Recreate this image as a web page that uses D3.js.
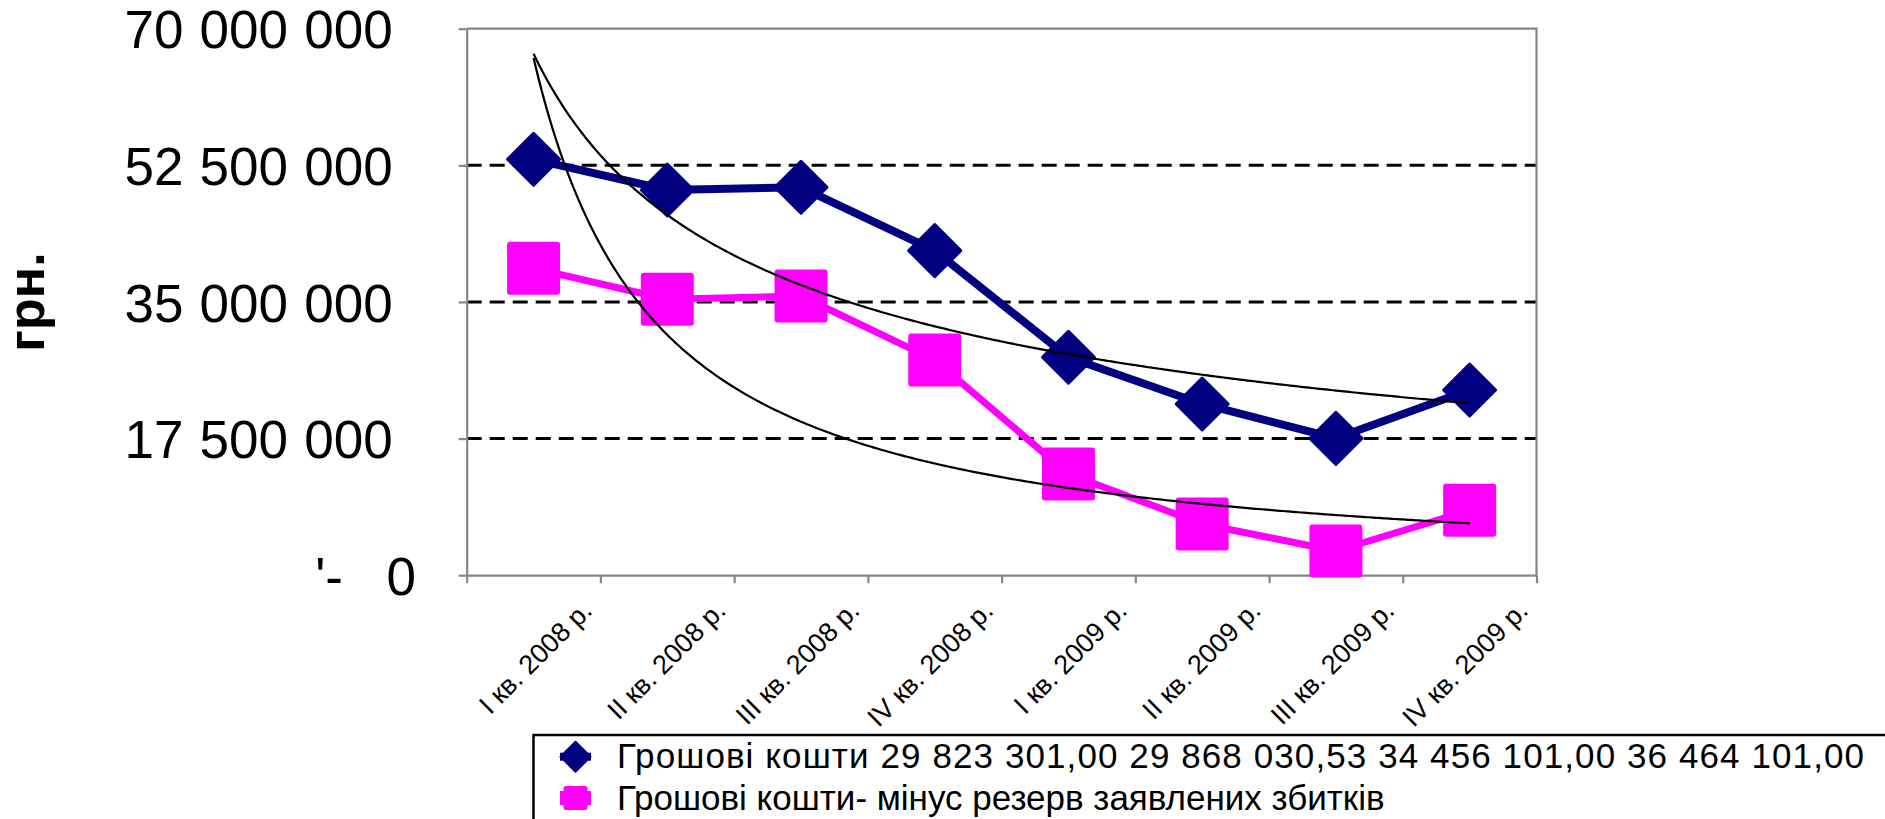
<!DOCTYPE html>
<html lang="uk">
<head>
<meta charset="utf-8">
<title>Грошові кошти</title>
<script src="https://cdn.jsdelivr.net/npm/d3@7/dist/d3.min.js"></script>
<style>
  html, body { margin: 0; padding: 0; background: #fff; }
  svg { display: block; font-family: "Liberation Sans", Arial, sans-serif; }
</style>
</head>
<body>
<svg id="chart" width="1885" height="819"></svg>
<script>
// Quarterly categories
const categories = [
  "I кв. 2008 р.", "II кв. 2008 р.", "III кв. 2008 р.", "IV кв. 2008 р.",
  "I кв. 2009 р.", "II кв. 2009 р.", "III кв. 2009 р.", "IV кв. 2009 р."
];
// Cash, UAH
const cashValues = [53270000, 49340000, 49690000, 41570000, 27910000, 21930000, 17530000, 23720000];
// Cash minus reserve of reported losses, UAH
const cashNetValues = [39310000, 35350000, 35760000, 27560000, 12960000, 6560000, 3100000, 8310000];
// Value axis ticks
const yTicks = [0, 17500000, 35000000, 52500000, 70000000];
const seriesNames = [
  "Грошові кошти 29 823 301,00 29 868 030,53 34 456 101,00 36 464 101,00",
  "Грошові кошти- мінус резерв заявлених збитків"
];
const axisTitle = "грн.";

const svg = d3.select("#chart");
const plotLeft = 466.7, plotRight = 1536.5, plotTop = 28.7, plotBottom = 575.2;
const axisGrey = "#868686";
const navy = "#000080", magenta = "#FF00FF";

const x = d3.scaleBand().domain(categories).range([plotLeft, plotRight]).padding(0);
const xi = d3.scaleLinear().domain([0.5, categories.length + 0.5]).range([plotLeft, plotRight]);
const y = d3.scaleLinear().domain([0, 70000000]).range([plotBottom, plotTop]);

const uaLocale = d3.formatLocale({ decimal: ",", thousands: " ", grouping: [3], currency: ["", ""] });
const fmt = uaLocale.format(",d");

// Dashed horizontal gridlines
svg.append("g")
  .selectAll("line")
  .data(yTicks.filter(v => v > 0 && v < 70000000))
  .join("line")
  .attr("x1", plotLeft).attr("x2", plotRight)
  .attr("y1", d => y(d)).attr("y2", d => y(d))
  .attr("stroke", "#000").attr("stroke-width", 3)
  .attr("stroke-dasharray", "15,8");

// Plot frame: top and right edges
svg.append("path")
  .attr("d", `M${plotLeft},${plotTop}H${plotRight}V${plotBottom}`)
  .attr("fill", "none").attr("stroke", axisGrey).attr("stroke-width", 2.2);

// Value axis
const yAxis = svg.append("g")
  .attr("transform", `translate(${plotLeft},0)`)
  .call(d3.axisLeft(y).tickValues(yTicks).tickSize(8).tickSizeOuter(0).tickPadding(66)
    .tickFormat(d => fmt(d)));
yAxis.select(".domain").attr("stroke", axisGrey).attr("stroke-width", 2.2);
yAxis.selectAll(".tick line").attr("stroke", axisGrey).attr("stroke-width", 2.2);
yAxis.selectAll(".tick text")
  .attr("fill", "#000").attr("font-size", 53)
  .attr("font-family", "'Liberation Sans', Arial, sans-serif")
  .attr("word-spacing", 1.5)
  .attr("dy", "0.36em");
// zero is printed in the accounting style: a dash and the digit set apart
yAxis.selectAll(".tick").filter(d => d === 0).select("text")
  .attr("x", 416 - plotLeft);
yAxis.selectAll(".tick").filter(d => d === 0)
  .append("text")
  .attr("x", 343 - plotLeft).attr("dy", "0.36em")
  .attr("text-anchor", "end").attr("fill", "#000")
  .attr("font-size", 53)
  .text("'-");

// Category axis: tick marks between categories
const xTickAxis = svg.append("g")
  .attr("transform", `translate(0,${plotBottom})`)
  .call(d3.axisBottom(xi).tickValues(d3.range(0.5, categories.length + 1, 1)).tickSize(8).tickSizeOuter(0).tickFormat(""));
xTickAxis.select(".domain").attr("stroke", axisGrey).attr("stroke-width", 2.2);
xTickAxis.selectAll(".tick line").attr("stroke", axisGrey).attr("stroke-width", 2.2);

// Category labels, rotated
const xLabelAxis = svg.append("g")
  .attr("transform", `translate(0,${plotBottom})`)
  .call(d3.axisBottom(x).tickSize(0).tickSizeOuter(0));
xLabelAxis.select(".domain").remove();
xLabelAxis.selectAll(".tick text")
  .attr("y", null).attr("dy", null)
  .attr("text-anchor", "end")
  .attr("fill", "#000")
  .attr("font-size", 27)
  .attr("font-family", "'Liberation Sans', Arial, sans-serif")
  .attr("transform", "translate(60,37) rotate(-45)");

// Axis title
svg.append("text")
  .attr("transform", "translate(44,302) rotate(-90)")
  .attr("text-anchor", "middle")
  .attr("font-size", 52).attr("font-weight", "bold")
  .text(axisTitle);

const cx = (d, i) => x(categories[i]) + x.bandwidth() / 2;
const line = d3.line().x((d, i) => cx(d, i)).y(d => y(d));

const diamond = (s) => `M0,${-s}L${s},0L0,${s}L${-s},0Z`;

// Series 1: cash
svg.append("path").datum(cashValues)
  .attr("d", line).attr("fill", "none")
  .attr("stroke", navy).attr("stroke-width", 8).attr("stroke-linejoin", "round");
svg.append("g").selectAll("path").data(cashValues).join("path")
  .attr("transform", (d, i) => `translate(${cx(d, i)},${y(d)})`)
  .attr("d", diamond(26))
  .attr("fill", navy).attr("stroke", navy).attr("stroke-width", 3).attr("stroke-linejoin", "round");

// Series 2: cash minus reserve
svg.append("path").datum(cashNetValues)
  .attr("d", line).attr("fill", "none")
  .attr("stroke", magenta).attr("stroke-width", 7).attr("stroke-linejoin", "round");
svg.append("g").selectAll("rect").data(cashNetValues).join("rect")
  .attr("x", (d, i) => cx(d, i) - 26.5).attr("y", d => y(d) - 26.5)
  .attr("width", 53).attr("height", 53).attr("rx", 3)
  .attr("fill", magenta);

// Power trendlines fitted to each series (least squares on ln x, ln y)
function powerFit(values) {
  const lx = values.map((_, i) => Math.log(i + 1));
  const ly = values.map(v => Math.log(v));
  const mx = d3.mean(lx), my = d3.mean(ly);
  const b = d3.sum(lx, (v, i) => (v - mx) * (ly[i] - my)) / d3.sum(lx, v => (v - mx) * (v - mx));
  const a = Math.exp(my - b * mx);
  return t => a * Math.pow(t, b);
}
const ts = d3.range(1, categories.length + 0.001, 0.02);
const trendLine = d3.line().x(d => xi(d[0])).y(d => y(d[1])).curve(d3.curveLinear);
[cashValues, cashNetValues].forEach(vals => {
  const f = powerFit(vals);
  svg.append("path")
    .datum(ts.map(t => [t, f(t)]))
    .attr("d", trendLine)
    .attr("fill", "none").attr("stroke", "#000").attr("stroke-width", 2.2);
});

// Legend
const lg = svg.append("g");
lg.append("rect")
  .attr("x", 533.5).attr("y", 735).attr("width", 1400).attr("height", 200)
  .attr("fill", "#fff").attr("stroke", "#000").attr("stroke-width", 2.5);
const legendRows = [
  { name: seriesNames[0], color: navy, shape: "diamond", y: 756.7, width: 1247 },
  { name: seriesNames[1], color: magenta, shape: "square", y: 798, width: null }
];
legendRows.forEach(r => {
  lg.append("line")
    .attr("x1", 560).attr("x2", 591).attr("y1", r.y).attr("y2", r.y)
    .attr("stroke", r.color).attr("stroke-width", r.shape === "diamond" ? 8 : 14);
  if (r.shape === "diamond") {
    lg.append("path")
      .attr("transform", `translate(575.5,${r.y})`)
      .attr("d", diamond(15))
      .attr("fill", r.color).attr("stroke", r.color).attr("stroke-width", 2).attr("stroke-linejoin", "round");
  } else {
    lg.append("rect")
      .attr("x", 563.5).attr("y", r.y - 12).attr("width", 24).attr("height", 24).attr("rx", 2.5)
      .attr("fill", r.color);
  }
  const t = lg.append("text")
    .attr("x", 617).attr("y", r.y + 11.6)
    .attr("font-size", 35).attr("fill", "#000")
    .text(r.name);
  if (r.width) t.attr("textLength", r.width).attr("lengthAdjust", "spacing");
});
</script>
</body>
</html>
